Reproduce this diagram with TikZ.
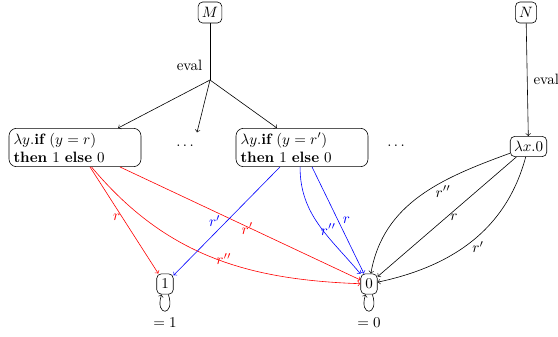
\documentclass[tikz,border=0pt]{standalone}
\begin{document}
\begin{tikzpicture}[x=0.6667pt,y=-0.6667pt,
  rbox/.style={draw, rounded corners=3pt, inner sep=2.5pt, minimum height=13.5pt, minimum width=11pt},
  bigbox/.style={draw, rounded corners=5pt, align=left, text width=82pt, inner sep=3pt},
  lab/.style={inner sep=1pt},
  redl/.style={draw=red, ->},
  bluel/.style={draw=blue, ->},
  loopy/.style={->, loop, out=-72, in=-108, min distance=5.5mm}
]
\useasboundingbox (0,0) rectangle (558,336);
\node[rbox, minimum height=14pt] (M) at (210,12.5) {$M$};
\node[rbox, minimum height=14pt] (N) at (526,12.5) {$N$};
\coordinate (br) at (210,80);
\node[bigbox] (b1) at (75,147.5) {$\lambda y.\textbf{if}\ (y = r)$\\\textbf{then} $1$ \textbf{else} $0$};
\node[bigbox] (b2) at (302,147.5) {$\lambda y.\textbf{if}\ (y = r')$\\\textbf{then} $1$ \textbf{else} $0$};
\node (d1) at (185,146) {$\dots$};
\node (d2) at (396,146) {$\dots$};
\node[rbox] (lam) at (528.5,146.5) {$\lambda x.0$};
\node[rbox] (one) at (165,284) {$1$};
\node[rbox] (zero) at (369,284) {$0$};
\node (e1) at (165,323) {$=1$};
\node (e0) at (369,323) {$=0$};

\draw (M) -- node[lab, left=4pt, pos=0.75] {eval} (br);
\draw[->] (br) -- ([xshift=28.7pt]b1.north);
\draw[->] (br) -- ([xshift=8pt,yshift=5pt]d1.north);
\draw[->] (br) -- ([xshift=-16.7pt]b2.north);
\draw[->] (N) -- node[lab, right=3pt] {eval} (lam);

% red
\draw[redl] ([xshift=10pt]b1.south) -- node[lab, pos=0.47, left, text=red] {$r$} (one);
\draw[redl] ([xshift=11pt]b1.south) to[out=-50, in=178] node[lab, pos=0.55, above=-3pt, text=red] {$r''$} (zero);
\draw[redl] ([xshift=30pt]b1.south) -- node[lab, pos=0.53, above=-6pt, text=red] {$r'$} (zero);
% blue
\draw[bluel] ([xshift=-14.7pt]b2.south) -- node[lab, pos=0.5, left=3pt, text=blue] {$r'$} (one);
\draw[bluel] ([xshift=-1.3pt]b2.south) to[out=-90, in=130] node[lab, pos=0.55, right=-2pt, text=blue] {$r''$} (zero);
\draw[bluel] ([xshift=6.7pt]b2.south) -- node[lab, pos=0.5, right=2pt, text=blue] {$r$} (zero);
% black
\draw[->] (lam) to[out=200, in=80] node[lab, pos=0.4, below right=-1pt] {$r''$} (zero);
\draw[->] (lam) -- node[lab, pos=0.45, below=1pt] {$r$} (zero);
\draw[->] (lam) to[out=255, in=12] node[lab, pos=0.5, below right=-1pt] {$r'$} (zero);

\path (one) edge[loopy] (one);
\path (zero) edge[loopy] (zero);
\end{tikzpicture}
\end{document}
